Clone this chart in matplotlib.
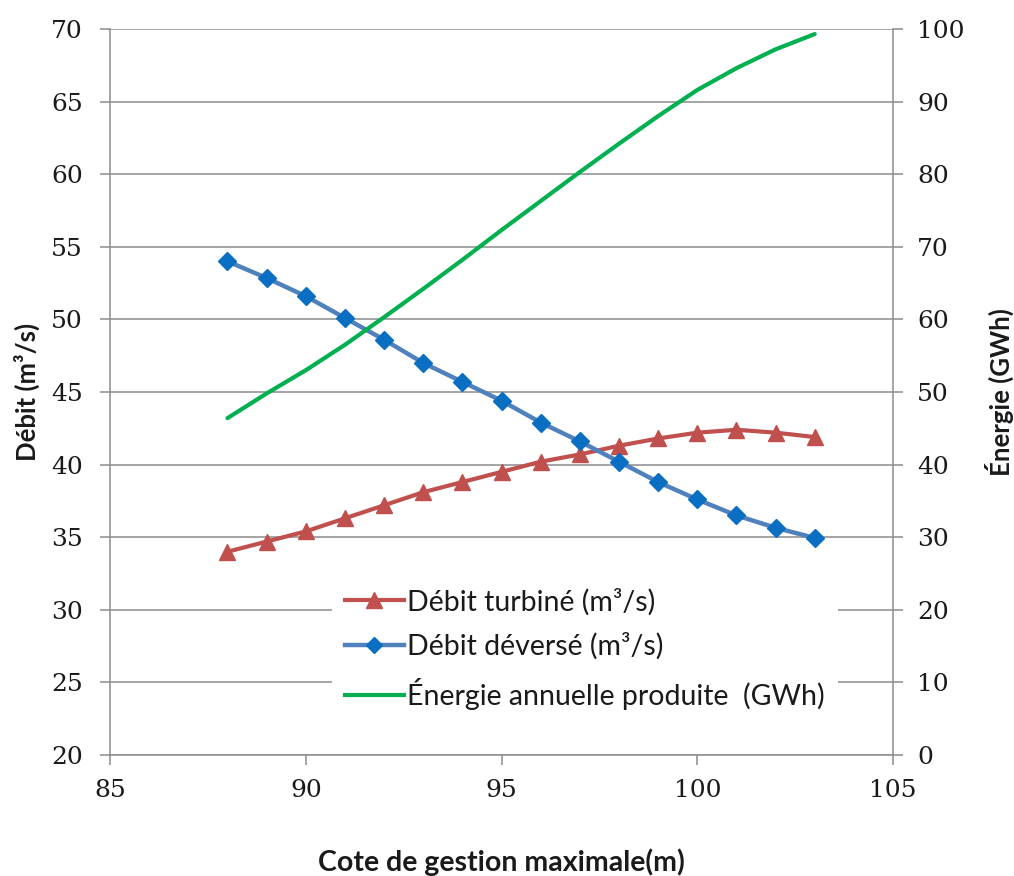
import matplotlib
matplotlib.use("Agg")
import matplotlib.pyplot as plt
from matplotlib.lines import Line2D

# Cote de gestion maximale (m)
cote = [88, 89, 90, 91, 92, 93, 94, 95, 96, 97, 98, 99, 100, 101, 102, 103]
# Débit turbiné (m3/s)
debit_turbine = [34.0, 34.7, 35.4, 36.3, 37.2, 38.1, 38.8, 39.5, 40.2, 40.7,
                 41.3, 41.8, 42.2, 42.4, 42.2, 41.9]
# Débit déversé (m3/s)
debit_deverse = [54.0, 52.85, 51.6, 50.1, 48.6, 47.0, 45.7, 44.4, 42.9, 41.6,
                 40.2, 38.8, 37.6, 36.5, 35.65, 34.95]
# Énergie annuelle produite (GWh)
energie = [46.4, 49.8, 53.0, 56.5, 60.3, 64.2, 68.2, 72.3, 76.3, 80.3,
           84.2, 88.0, 91.6, 94.6, 97.2, 99.3]

x_ticks = [85, 90, 95, 100, 105]
y1_ticks = [20, 25, 30, 35, 40, 45, 50, 55, 60, 65, 70]
y2_ticks = [0, 10, 20, 30, 40, 50, 60, 70, 80, 90, 100]

RED = "#C0504D"
BLUE_LINE = "#4F81BD"
BLUE_MARK = "#0A6FC2"
GREEN = "#00B050"
GRID = "#8C8C8C"
TEXT = "#1a1a1a"

tick_family = "DejaVu Serif"
tick_size = 18
label_font = dict(family="Lato", size=18.5, weight="bold", color=TEXT)

fig = plt.figure(figsize=(10.14, 8.76), dpi=100)
ax1 = fig.add_axes([0.1085, 0.1381, 0.7722, 0.8288])
ax2 = ax1.twinx()

ax1.plot(cote, debit_turbine, color=RED, lw=3, marker="^", ms=12,
         markerfacecolor=RED, markeredgecolor=RED, zorder=3)
ax1.plot(cote, debit_deverse, color=BLUE_LINE, lw=3.2, marker="D", ms=9,
         markerfacecolor=BLUE_MARK, markeredgecolor=BLUE_MARK, zorder=3)
ax2.plot(cote, energie, color=GREEN, lw=3, zorder=3, solid_capstyle="round")

ax1.set_xlim(85, 105)
ax1.set_ylim(20, 70)
ax2.set_ylim(0, 100)
ax1.set_xticks(x_ticks)
ax1.set_yticks(y1_ticks)
ax2.set_yticks(y2_ticks)

ax1.yaxis.grid(True, color=GRID, lw=1.1)
ax1.set_axisbelow(True)

for ax in (ax1, ax2):
    ax.spines["top"].set_visible(False)
    for side in ("left", "right", "bottom"):
        ax.spines[side].set_color(GRID)
        ax.spines[side].set_linewidth(1.1)
    ax.tick_params(axis="both", direction="out", length=7.5, width=1.1,
                   color=GRID)
ax1.spines["right"].set_visible(False)
ax2.spines["left"].set_visible(False)
ax2.spines["bottom"].set_visible(False)
ax1.tick_params(axis="y", pad=12)
ax2.tick_params(axis="y", pad=10)
ax1.tick_params(axis="x", pad=10)

for lab in ax1.get_xticklabels() + ax1.get_yticklabels() + ax2.get_yticklabels():
    lab.set_fontfamily(tick_family)
    lab.set_fontsize(tick_size)
    lab.set_color(TEXT)

ax1.set_ylabel("Débit (m³/s)", labelpad=8, **label_font)
ax2.set_ylabel("Énergie (GWh)", labelpad=14, **label_font)
ax1.set_xlabel("Cote de gestion maximale(m)", labelpad=33,
               **dict(label_font, size=20.5))

handles = [
    Line2D([], [], color=RED, lw=3, marker="^", ms=12,
           markerfacecolor=RED, markeredgecolor=RED),
    Line2D([], [], color=BLUE_LINE, lw=3.2, marker="D", ms=8,
           markerfacecolor=BLUE_MARK, markeredgecolor=BLUE_MARK),
    Line2D([], [], color=GREEN, lw=3),
]
labels = ["Débit turbiné (m³/s)", "Débit déversé (m³/s)",
          "Énergie annuelle produite  (GWh)"]
leg = ax2.legend(handles, labels, loc="lower left",
                 bbox_to_anchor=(0.265, 0.025), frameon=True,
                 facecolor="white", edgecolor="none", framealpha=1,
                 fancybox=False, prop=dict(family="Lato", size=20.5),
                 handlelength=2.1, handletextpad=0.1, labelspacing=0.62,
                 borderpad=0.45)
for t in leg.get_texts():
    t.set_color(TEXT)
leg.set_zorder(5)

fig.savefig("out.png", dpi=100, facecolor="white")
